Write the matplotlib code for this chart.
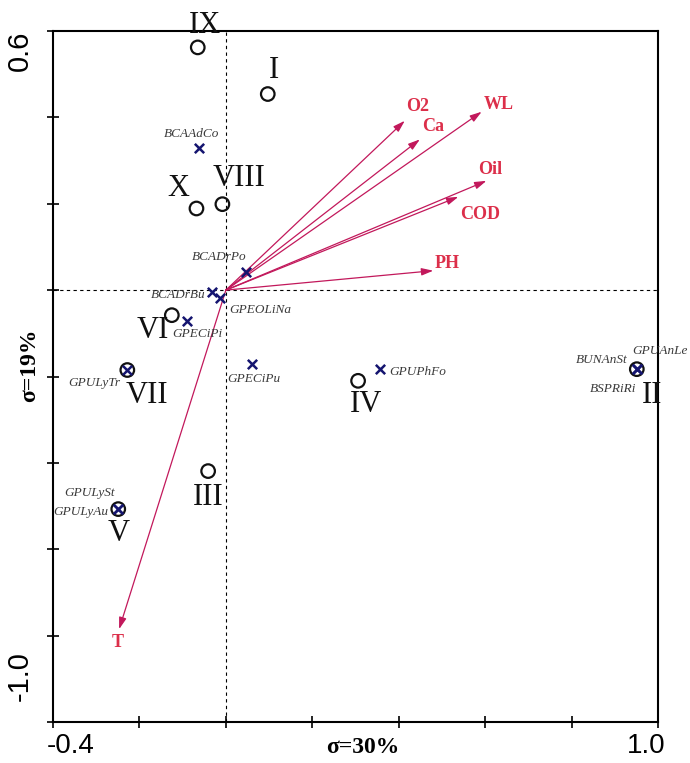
import matplotlib
matplotlib.use("Agg")
import matplotlib.pyplot as plt
import matplotlib.transforms as mtransforms
import numpy as np

# sites (circles)
sites = ["I", "II", "III", "IV", "V", "VI", "VII", "VIII", "IX", "X"]
site_x = [0.097, 0.951, -0.041, 0.306, -0.249, -0.125, -0.228, -0.008, -0.065, -0.068]
site_y = [0.454, -0.183, -0.419, -0.210, -0.507, -0.058, -0.185, 0.199, 0.562, 0.189]

# species (crosses)
species = ["BCAAdCo", "BCADrPo", "BCADrBu", "GPEOLiNa", "GPECiPi", "GPECiPu",
           "GPUPhFo", "GPULyTr", "GPULySt", "GPULyAu", "BUNAnSt", "GPUAnLe", "BSPRiRi"]
spec_x = [-0.062, 0.046, -0.031, -0.014, -0.091, 0.060,
          0.356, -0.228, -0.249, -0.249, 0.951, 0.951, 0.951]
spec_y = [0.330, 0.042, -0.005, -0.018, -0.071, -0.170,
          -0.183, -0.185, -0.507, -0.507, -0.183, -0.183, -0.183]

# environmental variables (arrows)
env = ["O2", "Ca", "WL", "Oil", "COD", "PH", "T"]
env_x = [0.414, 0.449, 0.592, 0.603, 0.538, 0.480, -0.247]
env_y = [0.392, 0.349, 0.413, 0.253, 0.216, 0.045, -0.785]

# label placement (pixel offsets, alignment)
site_off = {"I": (6, 24), "II": (15, -26), "III": (0, -26), "IV": (8, -24),
            "V": (0, -24), "VI": (-19, -15), "VII": (20, -25), "VIII": (17, 26),
            "IX": (7, 22), "X": (-18, 20)}
spec_off = {"BCAAdCo": (-7, 14, "center"), "BCADrPo": (-27, 15, "center"),
            "BCADrBu": (-7, -3, "right"), "GPEOLiNa": (9, -12, "left"),
            "GPECiPi": (-14, -13, "left"), "GPECiPu": (2, -15, "center"),
            "GPUPhFo": (10, -3, "left"), "GPULyTr": (-7, -13, "right"),
            "GPULySt": (-29, 16, "center"), "GPULyAu": (-10, -3, "right"),
            "BUNAnSt": (-9, 9, "right"), "GPUAnLe": (23, 18, "center"),
            "BSPRiRi": (-1, -20, "right")}
env_off = {"O2": (13, 14), "Ca": (13, 13), "WL": (17, 7), "Oil": (4, 11),
           "COD": (22, -18), "PH": (14, 7), "T": (-1, -13)}

arrow_col = "#c2185b"
env_col = "#dc2f4a"
navy = "#151570"
serif = "Liberation Serif"

fig = plt.figure(figsize=(6.9, 7.63), dpi=100)
ax = fig.add_axes([0.0768, 0.0537, 0.8768, 0.9057])
ax.set_xlim(-0.4, 1.0)
ax.set_ylim(-1.0, 0.6)

# dashed zero lines
ax.axvline(0, color="black", lw=0.8, ls=(0, (3, 3)), zorder=1)
ax.axhline(0, color="black", lw=0.8, ls=(0, (3, 3)), zorder=1)

# arrows
for name, ex, ey in zip(env, env_x, env_y):
    ax.annotate("", xy=(ex, ey), xytext=(0, 0),
                arrowprops=dict(arrowstyle="-|>,head_length=0.7,head_width=0.22",
                                color=arrow_col, lw=0.9, mutation_scale=10,
                                shrinkA=0, shrinkB=0), zorder=2)
    dx, dy = env_off[name]
    ax.annotate(name, xy=(ex, ey), xytext=(dx, dy), textcoords="offset pixels",
                ha="center", va="center", color=env_col, fontsize=13,
                fontweight="bold", family=serif, zorder=5)

# sites
ax.scatter(site_x, site_y, s=95, facecolors="none", edgecolors="#111111",
           linewidths=1.6, zorder=3)
for name, sx, sy in zip(sites, site_x, site_y):
    dx, dy = site_off[name]
    ax.annotate(name, xy=(sx, sy), xytext=(dx, dy), textcoords="offset pixels",
                ha="center", va="center", fontsize=22, family=serif,
                color="#111111", zorder=5)

# species
ax.scatter(spec_x, spec_y, s=45, marker="x", color=navy, linewidths=1.8, zorder=4)
for name, px, py in zip(species, spec_x, spec_y):
    dx, dy, ha = spec_off[name]
    ax.annotate(name, xy=(px, py), xytext=(dx, dy), textcoords="offset pixels",
                ha=ha, va="center", fontsize=9.5, family=serif, style="italic",
                color="#3a3a3a", zorder=5)

# axes styling
for s in ax.spines.values():
    s.set_linewidth(1.5)

xt = np.arange(-0.4, 1.01, 0.2)
yt = np.arange(-1.0, 0.61, 0.2)
ax.set_xticks(xt)
ax.set_yticks(yt)
ax.set_xticklabels(["-0.4"] + [""] * (len(xt) - 2) + ["1.0"],
                   family="Liberation Sans", fontsize=20)
ax.set_yticklabels(["-1.0"] + [""] * (len(yt) - 2) + ["0.6"],
                   family="Liberation Sans", fontsize=21, rotation=90)
ax.tick_params(direction="inout", length=8, width=1.2, pad=4)
ax.tick_params(axis="y", pad=10)

xl = ax.get_xticklabels()
xl[0].set_ha("left")
xl[0].set_transform(xl[0].get_transform() +
                    mtransforms.ScaledTranslation(-6 / 100, 0, fig.dpi_scale_trans))
xl[-1].set_ha("right")
xl[-1].set_transform(xl[-1].get_transform() +
                     mtransforms.ScaledTranslation(8 / 100, 0, fig.dpi_scale_trans))
yl = ax.get_yticklabels()
yl[-1].set_va("top")
yl[0].set_va("bottom")
yl[0].set_transform(yl[0].get_transform() +
                    mtransforms.ScaledTranslation(0, 21 / 100, fig.dpi_scale_trans))

ax.set_xlabel("σ=30%", family=serif, fontsize=17, fontweight="bold")
ax.xaxis.set_label_coords(0.512, -0.022)
ax.set_ylabel("σ=19%", family=serif, fontsize=17, fontweight="bold")
ax.yaxis.set_label_coords(-0.0215, 0.517)

fig.savefig("out.png", dpi=100)
